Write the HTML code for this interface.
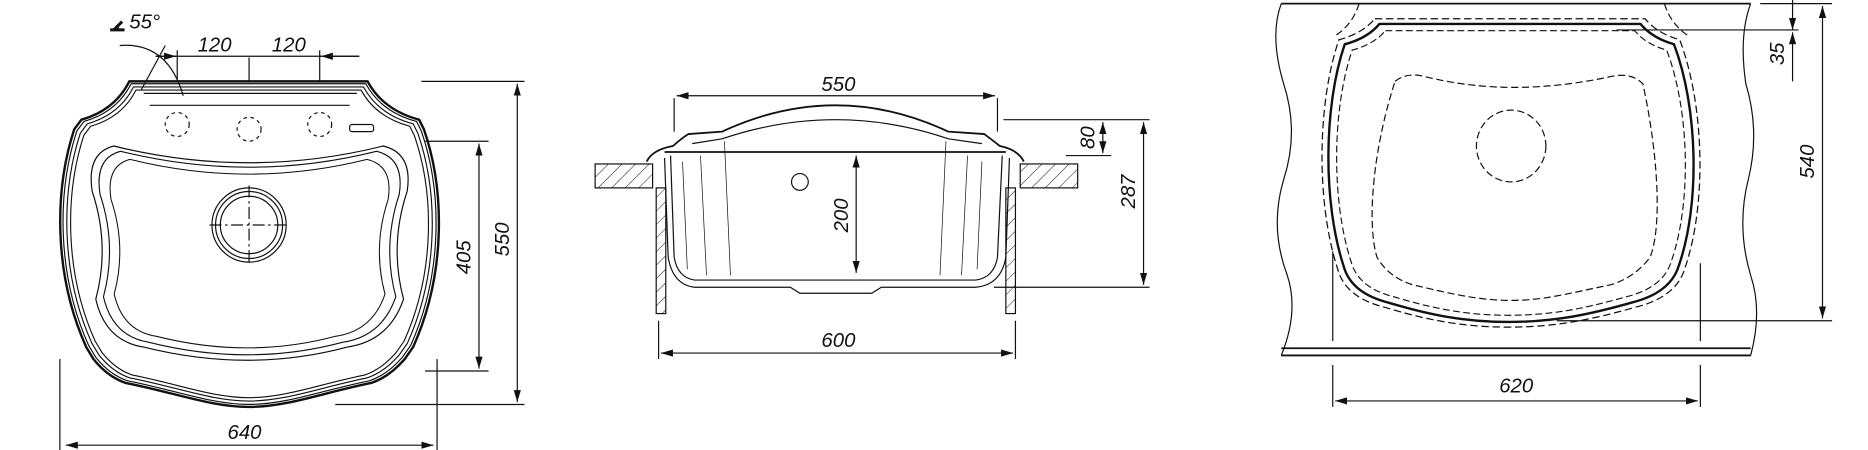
<!DOCTYPE html>
<html><head><meta charset="utf-8"><style>
html,body{margin:0;padding:0;background:#fff;width:1868px;height:450px;overflow:hidden}
svg{display:block}
text{font-family:"Liberation Sans",sans-serif;font-style:italic;font-size:17px;fill:#111}
</style></head><body>
<svg width="1868" height="450" viewBox="0 0 1560 376" preserveAspectRatio="none" xmlns="http://www.w3.org/2000/svg">
<defs>
<marker id="a" viewBox="0 0 10 6" refX="10" refY="3" markerWidth="10" markerHeight="6" orient="auto-start-reverse" markerUnits="userSpaceOnUse"><path d="M0,0 L10,3 L0,6 Z" fill="#111"/></marker>
<pattern id="h" width="8" height="8" patternUnits="userSpaceOnUse" patternTransform="rotate(45)"><line x1="0" y1="0" x2="0" y2="8" stroke="#111" stroke-width="0.8"/></pattern>
<path id="outer" d="M108,68 L307,68 Q320,92 350,100 L354,108 C372,160 372,230 345,290 L338,300 Q325,315 310,320 C270,328 240,340 208,340 C176,340 146,328 105,320 Q90,315 78,300 L72,290 C45,230 45,160 62,108 L68,100 Q96,92 108,68 Z"/>
<path id="basin" d="M95,122 Q208,150 320,122 Q345,128 340,160 Q325,205 337,250 Q325,285 290,290 Q208,312 120,290 Q88,285 80,250 Q92,205 77,160 Q72,128 95,122 Z"/>
<path id="rs" d="M1152,20 L1370,20 Q1380,32 1398,37 C1418,90 1420,170 1402,222 Q1395,245 1362,253 C1330,262 1300,269 1260,269 C1220,269 1190,262 1160,253 Q1128,245 1122,222 C1105,170 1105,90 1123,37 Q1142,32 1152,20 Z"/>
</defs>
<g fill="none" stroke="#111" stroke-width="1">
<!-- LEFT VIEW -->
<use href="#outer" stroke-width="2"/>
<use href="#outer" transform="translate(208,200) scale(0.985) translate(-208,-200)"/>
<use href="#outer" transform="translate(208,200) scale(0.965) translate(-208,-200)"/>
<use href="#outer" transform="translate(208,200) scale(0.945) translate(-208,-200)"/>
<line x1="120" y1="78" x2="298" y2="78"/>
<line x1="125" y1="88" x2="292" y2="88"/>
<use href="#basin"/>
<use href="#basin" transform="translate(208,210) scale(0.95) translate(-208,-210)"/>
<use href="#basin" transform="translate(208,215) scale(0.88) translate(-208,-215)"/>
<circle cx="208" cy="188" r="31"/><circle cx="208" cy="188" r="28"/><circle cx="208" cy="188" r="24"/>
<line x1="175" y1="188" x2="242" y2="188" stroke-dasharray="10,3,2,3"/>
<line x1="208" y1="155" x2="208" y2="222" stroke-dasharray="10,3,2,3"/>
<g stroke-dasharray="3,3"><circle cx="148" cy="104" r="10"/><circle cx="208" cy="108" r="10"/><circle cx="267" cy="104" r="10"/></g>
<rect x="292" y="104" width="20" height="6" rx="2"/>
<line x1="50" y1="300" x2="50" y2="378"/><line x1="365" y1="300" x2="365" y2="378"/>
<line x1="55" y1="372" x2="362" y2="372" marker-start="url(#a)" marker-end="url(#a)"/>
<line x1="352" y1="68" x2="438" y2="68"/><line x1="280" y1="338" x2="438" y2="338"/>
<line x1="432" y1="70" x2="432" y2="336" marker-start="url(#a)" marker-end="url(#a)"/>
<line x1="355" y1="118" x2="408" y2="118"/><line x1="355" y1="310" x2="408" y2="310"/>
<line x1="400" y1="120" x2="400" y2="308" marker-start="url(#a)" marker-end="url(#a)"/>
<line x1="148" y1="42" x2="148" y2="68"/><line x1="208" y1="48" x2="208" y2="68"/><line x1="267" y1="42" x2="267" y2="68"/>
<line x1="130" y1="47" x2="300" y2="47"/>
<line x1="130" y1="47" x2="147" y2="47" marker-end="url(#a)"/><line x1="300" y1="47" x2="268" y2="47" marker-end="url(#a)"/>
<line x1="118" y1="75" x2="138" y2="38"/>
<path d="M100,38 Q140,35 153,80"/>
<!-- MIDDLE VIEW -->
<path d="M540,135 Q545,125 562,122 Q570,115 575,112 L603,110 Q650,88 698,88 Q745,88 792,110 L822,112 Q830,118 835,122 Q850,125 855,135" stroke-width="1.5"/>
<path d="M578,120 L603,116 Q650,100 698,100 Q745,100 792,116 L820,120"/>
<line x1="555" y1="127" x2="840" y2="127" stroke-width="1.5"/>
<path d="M560,130 L563,215 Q566,232 580,234 L815,234 Q830,232 833,215 L837,130"/>
<path d="M555,132 L558,215 Q562,238 580,240 L660,240 L668,245 L728,245 L736,240 L815,240 Q836,238 840,215 L843,132"/>
<path d="M570,135 L574,225 M585,130 L590,230 M605,118 L610,230 M820,135 L816,225 M808,130 L803,230 M790,118 L785,230" stroke-width="0.6"/>
<circle cx="668" cy="152" r="7"/>
<rect x="497" y="137" width="48" height="20" fill="url(#h)"/>
<rect x="852" y="137" width="48" height="20" fill="url(#h)"/>
<rect x="548" y="157" width="8" height="105" fill="url(#h)"/>
<rect x="840" y="157" width="8" height="105" fill="url(#h)"/>
<line x1="563" y1="82" x2="563" y2="110"/><line x1="833" y1="82" x2="833" y2="110"/>
<line x1="565" y1="80" x2="831" y2="80" marker-start="url(#a)" marker-end="url(#a)"/>
<line x1="838" y1="100" x2="960" y2="100"/><line x1="890" y1="130" x2="928" y2="130"/><line x1="830" y1="240" x2="960" y2="240"/>
<line x1="921" y1="102" x2="921" y2="128" marker-start="url(#a)" marker-end="url(#a)"/>
<line x1="955" y1="102" x2="955" y2="238" marker-start="url(#a)" marker-end="url(#a)"/>
<line x1="715" y1="130" x2="715" y2="228" marker-start="url(#a)" marker-end="url(#a)"/>
<line x1="550" y1="268" x2="550" y2="300"/><line x1="848" y1="268" x2="848" y2="300"/>
<line x1="552" y1="295" x2="846" y2="295" marker-start="url(#a)" marker-end="url(#a)"/>
<!-- RIGHT VIEW -->
<line x1="1070" y1="3" x2="1462" y2="3" stroke-width="1.5"/>
<line x1="1070" y1="291" x2="1462" y2="291" stroke-width="1.5"/><line x1="1070" y1="297" x2="1462" y2="297" stroke-width="1.5"/>
<path d="M1070,3 Q1060,30 1072,70 Q1085,110 1072,150 Q1060,190 1075,230 Q1085,260 1070,297"/>
<path d="M1462,3 Q1452,30 1458,70 Q1470,110 1460,150 Q1450,190 1462,230 Q1472,260 1462,297"/>
<use href="#rs" stroke-width="2"/>
<g stroke-dasharray="6,3">
<use href="#rs" transform="translate(1262,145) scale(1.035) translate(-1262,-145)"/>
<use href="#rs" transform="translate(1262,145) scale(0.955) translate(-1262,-145)"/>
<path d="M1165,68 Q1175,60 1190,64 Q1262,82 1345,64 Q1362,60 1372,70 C1385,130 1388,190 1378,215 Q1365,232 1345,238 C1310,245 1290,251 1262,251 C1234,251 1210,245 1180,238 Q1160,232 1150,215 C1142,190 1145,130 1165,68 Z"/>
<path d="M1135,3 Q1130,20 1115,30 M1390,3 Q1395,20 1410,30"/>
<ellipse cx="1262" cy="122" rx="29" ry="30"/>
</g>
<line x1="1113" y1="210" x2="1113" y2="285"/><line x1="1420" y1="220" x2="1420" y2="285"/>
<line x1="1113" y1="305" x2="1113" y2="340"/><line x1="1420" y1="305" x2="1420" y2="340"/>
<line x1="1115" y1="335" x2="1418" y2="335" marker-start="url(#a)" marker-end="url(#a)"/>
<line x1="1470" y1="3" x2="1530" y2="3"/><line x1="1350" y1="25" x2="1502" y2="25"/><line x1="1300" y1="268" x2="1530" y2="268"/>
<line x1="1522" y1="5" x2="1522" y2="266" marker-start="url(#a)" marker-end="url(#a)"/>
<line x1="1497" y1="0" x2="1497" y2="25" marker-end="url(#a)"/><line x1="1497" y1="68" x2="1497" y2="27" marker-end="url(#a)"/>
</g>
<path d="M95,25 L102,18 M98,21 L98,25 M92,25 L104,25" stroke="#111" stroke-width="2.5" fill="none"/>
<text x="108" y="24">55°</text>
<text x="165" y="43">120</text><text x="227" y="43">120</text>
<text x="190" y="367">640</text>
<text transform="translate(425,200) rotate(-90)" text-anchor="middle">550</text>
<text transform="translate(393,215) rotate(-90)" text-anchor="middle">405</text>
<text x="686" y="76">550</text>
<text x="686" y="290">600</text>
<text transform="translate(708,180) rotate(-90)" text-anchor="middle">200</text>
<text transform="translate(914,115) rotate(-90)" text-anchor="middle">80</text>
<text transform="translate(948,160) rotate(-90)" text-anchor="middle">287</text>
<text x="1252" y="328">620</text>
<text transform="translate(1515,135) rotate(-90)" text-anchor="middle">540</text>
<text transform="translate(1490,45) rotate(-90)" text-anchor="middle">35</text>
</svg>
</body></html>
